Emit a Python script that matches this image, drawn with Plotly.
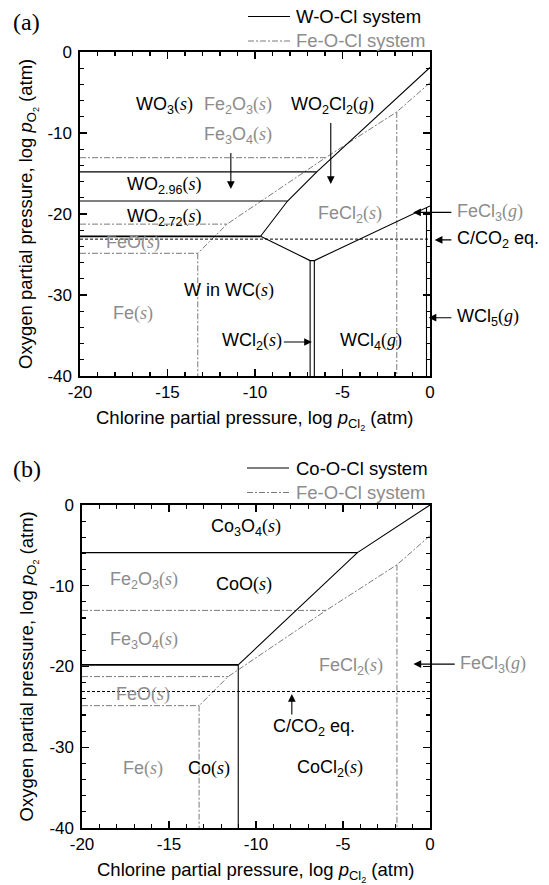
import plotly.graph_objects as go

# ---------------- data (log units) ----------------
X_RANGE = [-20, 0]
Y_RANGE = [-40, 0]
X_TICKS = [-20, -15, -10, -5, 0]
X_TICK_TEXT = ["-20", "-15", "-10", "-5", "0"]
Y_TICKS = [-40, -30, -20, -10, 0]
Y_TICK_TEXT = ["-40", "-30", "-20", "-10", "0"]

# Fe-O-Cl system (grey dash-dot), same in both panels
fe_hem_mag_x = [-20, -5.97]
fe_hem_mag_y = [-13.05, -13.05]
fe_mag_wus_x = [-20, -11.6]
fe_mag_wus_y = [-21.25, -21.25]
fe_wus_fe_x = [-20, -13.27]
fe_wus_fe_y = [-24.85, -24.85]
fe_fe_cl2_x = [-13.27, -13.27]
fe_fe_cl2_y = [-24.85, -40]
fe_ox_cl_x = [0, -1.9, -5.97, -11.6, -13.27]
fe_ox_cl_y = [-3.8, -7.4, -13.05, -21.25, -24.85]
fe_cl2_cl3_x = [-1.9, -1.9]
fe_cl2_cl3_y = [-7.4, -40]

# C/CO2 equilibrium
cco2_x = [-20, 0]
cco2_y = [-23.1, -23.1]

# W-O-Cl system (panel a)
w_wo3_wo296_x = [-20, -6.47]
w_wo3_wo296_y = [-14.8, -14.8]
w_wo296_wo272_x = [-20, -8.14]
w_wo296_wo272_y = [-18.4, -18.4]
w_wo272_w_x = [-20, -9.68]
w_wo272_w_y = [-22.75, -22.75]
w_oxide_gas_x = [0, -6.47, -8.14, -9.68]
w_oxide_gas_y = [-1.9, -14.8, -18.4, -22.75]
w_vee_x = [-9.68, -6.85, -6.61, 0]
w_vee_y = [-22.75, -25.75, -25.75, -19.0]
w_wcl2_left_x = [-6.85, -6.85]
w_wcl2_left_y = [-25.75, -40]
w_wcl2_right_x = [-6.61, -6.61]
w_wcl2_right_y = [-25.75, -40]
w_wcl5_x = [-0.2, -0.2]
w_wcl5_y = [-19.2, -40]

# Co-O-Cl system (panel b)
co_co3o4_coo_x = [-20, -4.17]
co_co3o4_coo_y = [-5.9, -5.9]
co_coo_co_x = [-20, -11.02]
co_coo_co_y = [-19.8, -19.8]
co_oxide_cl_x = [0, -4.17, -11.02]
co_oxide_cl_y = [0, -5.9, -19.8]
co_co_cocl2_x = [-11.02, -11.02]
co_co_cocl2_y = [-19.8, -40]

# phase labels: (formula, state, x, y, grey?)
labels_a = [
    ("WO<sub>3</sub>", "s", -15.2, -6.6, False),
    ("Fe<sub>2</sub>O<sub>3</sub>", "s", -10.98, -6.6, True),
    ("WO<sub>2</sub>Cl<sub>2</sub>", "g", -5.57, -6.6, False),
    ("Fe<sub>3</sub>O<sub>4</sub>", "s", -10.98, -10.33, True),
    ("WO<sub>2.96</sub>", "s", -15.2, -16.5, False),
    ("WO<sub>2.72</sub>", "s", -15.2, -20.4, False),
    ("FeO", "s", -17.0, -23.5, True),
    ("FeCl<sub>2</sub>", "s", -4.57, -20.0, True),
    ("W in WC", "s", -11.48, -29.45, False),
    ("Fe", "s", -17.0, -32.3, True),
    ("WCl<sub>2</sub>", "s", -10.18, -35.8, False),
    ("WCl<sub>4</sub>", "g", -3.37, -35.8, False),
]
outside_a = [
    ("FeCl<sub>3</sub>", "g", 1.45, -19.8, True),
    ("C/CO<sub>2</sub> eq.", None, 1.45, -23.2, False),
    ("WCl<sub>5</sub>", "g", 1.45, -32.8, False),
]
# arrows: (tail x, tail y, head x, head y)
arrows_a = [
    (-11.38, -12.4, -11.38, -16.9),
    (-5.67, -8.7, -5.67, -16.3),
    (-8.38, -35.8, -6.75, -35.8),
    (1.25, -19.8, -0.96, -19.8),
    (1.25, -23.2, 0.27, -23.2),
    (1.25, -32.8, -0.08, -32.8),
]

labels_b = [
    ("Co<sub>3</sub>O<sub>4</sub>", "s", -10.58, -2.83, False),
    ("Fe<sub>2</sub>O<sub>3</sub>", "s", -16.42, -9.3, True),
    ("CoO", "s", -10.68, -9.9, False),
    ("Fe<sub>3</sub>O<sub>4</sub>", "s", -16.42, -16.8, True),
    ("FeCl<sub>2</sub>", "s", -4.55, -20.0, True),
    ("FeO", "s", -16.49, -23.5, True),
    ("C/CO<sub>2</sub> eq.", None, -6.67, -27.5, False),
    ("Fe", "s", -16.49, -32.6, True),
    ("Co", "s", -12.69, -32.6, False),
    ("CoCl<sub>2</sub>", "s", -5.77, -32.6, False),
]
outside_b = [
    ("FeCl<sub>3</sub>", "g", 1.6, -19.7, True),
]
arrows_b = [
    (-7.94, -26.0, -7.94, -23.4),
    (1.45, -19.7, -0.95, -19.7),
]

legend_a = ["W-O-Cl system", "Fe-O-Cl system"]
legend_b = ["Co-O-Cl system", "Fe-O-Cl system"]

# ---------------- styling ----------------
W, H = 549, 885
FONT = "Liberation Sans, Arial, sans-serif"
SERIF = "Liberation Serif"
GREY_TXT = "#8c8c8c"
GREY_LN = "#7a7a7a"
DASHDOT = "6px,2px,2px,2px"
DOT = "3px,2px"

fig = go.Figure()


def add_line(xs, ys, sub, kind):
    if kind == "solid":
        line = dict(color="black", width=1.1)
    elif kind == "solid2":
        line = dict(color="black", width=1.8)
    elif kind == "fe":
        line = dict(color=GREY_LN, width=1.0, dash=DASHDOT)
    else:
        line = dict(color="black", width=1.0, dash=DOT)
    fig.add_trace(go.Scatter(x=xs, y=ys, mode="lines", line=line,
                             xaxis="x" + sub, yaxis="y" + sub,
                             showlegend=False, hoverinfo="skip"))


for sub in ["", "2"]:
    add_line(fe_hem_mag_x, fe_hem_mag_y, sub, "fe")
    add_line(fe_mag_wus_x, fe_mag_wus_y, sub, "fe")
    add_line(fe_wus_fe_x, fe_wus_fe_y, sub, "fe")
    add_line(fe_fe_cl2_x, fe_fe_cl2_y, sub, "fe")
    add_line(fe_ox_cl_x, fe_ox_cl_y, sub, "fe")
    add_line(fe_cl2_cl3_x, fe_cl2_cl3_y, sub, "fe")
    add_line(cco2_x, cco2_y, sub, "dot")

add_line(w_wo3_wo296_x, w_wo3_wo296_y, "", "solid")
add_line(w_wo296_wo272_x, w_wo296_wo272_y, "", "solid")
add_line(w_wo272_w_x, w_wo272_w_y, "", "solid2")
add_line(w_oxide_gas_x, w_oxide_gas_y, "", "solid")
add_line(w_vee_x, w_vee_y, "", "solid")
add_line(w_wcl2_left_x, w_wcl2_left_y, "", "solid")
add_line(w_wcl2_right_x, w_wcl2_right_y, "", "solid")
add_line(w_wcl5_x, w_wcl5_y, "", "solid")

add_line(co_co3o4_coo_x, co_co3o4_coo_y, "2", "solid")
add_line(co_coo_co_x, co_coo_co_y, "2", "solid2")
add_line(co_oxide_cl_x, co_oxide_cl_y, "2", "solid")
add_line(co_co_cocl2_x, co_co_cocl2_y, "2", "solid")


def phase(formula, state):
    if state is None:
        return formula
    return (formula + "<span style='font-family:" + SERIF + "'>(<i>" + state +
            "</i>)</span>")


def dom(v):
    return (v - X_RANGE[0]) / (X_RANGE[1] - X_RANGE[0])


annotations = []
LBL = 18


def add_panel_annotations(sub, labels, outside, arrows):
    xr = "x" + sub + " domain"
    for f, st, x, y, grey in labels:
        annotations.append(dict(text=phase(f, st), x=x, y=y, xref="x" + sub, yref="y" + sub,
                                showarrow=False,
                                font=dict(family=FONT, size=LBL,
                                          color=GREY_TXT if grey else "black")))
    for f, st, x, y, grey in outside:
        annotations.append(dict(text=phase(f, st), x=dom(x), y=y,
                                xref=xr, yref="y" + sub,
                                xanchor="left", showarrow=False,
                                font=dict(family=FONT, size=LBL,
                                          color=GREY_TXT if grey else "black")))
    for tx, ty, hx, hy in arrows:
        annotations.append(dict(text="", x=dom(hx), y=hy, ax=dom(tx), ay=ty,
                                xref=xr, yref="y" + sub, axref=xr, ayref="y" + sub,
                                showarrow=True, arrowhead=2, arrowsize=1.4,
                                arrowwidth=1.1, arrowcolor="black", borderpad=0))


add_panel_annotations("", labels_a, outside_a, arrows_a)
add_panel_annotations("2", labels_b, outside_b, arrows_b)

# plot boxes in pixels
BOX_A = (80, 430, 52, 376)
BOX_B = (82, 430, 505, 828)


def px(xp):
    return xp / W


def py(ypix):
    return 1 - ypix / H


XT = "Chlorine partial pressure, log <i>p</i><sub>Cl<sub>2</sub></sub> (atm)"
YT = "Oxygen partial pressure, log <i>p</i><sub>O<sub>2</sub></sub> (atm)"

for box, tag, lab_y, leg, leg_y in [(BOX_A, "(a)", 22, legend_a, 16.5),
                                   (BOX_B, "(b)", 469, legend_b, 468)]:
    x0, x1, y0, y1 = box
    annotations.append(dict(text=XT, x=px((x0 + x1) / 2), y=py(y1 + 29), xref="paper", yref="paper",
                            xanchor="center", yanchor="top", showarrow=False,
                            font=dict(family=FONT, size=18.5, color="black")))
    annotations.append(dict(text=YT, x=px(28), y=py((y0 + y1) / 2), xref="paper", yref="paper",
                            xanchor="center", yanchor="middle", textangle=-90, showarrow=False,
                            font=dict(family=FONT, size=18.5, color="black")))
    annotations.append(dict(text=tag, x=px(11), y=py(lab_y), xref="paper", yref="paper",
                            xanchor="left", yanchor="middle", showarrow=False,
                            font=dict(family=SERIF, size=24, color="black")))
    for i, name in enumerate(leg):
        yy = leg_y + 24.5 * i
        annotations.append(dict(text=name, x=px(294), y=py(yy), xref="paper", yref="paper",
                                xanchor="left", yanchor="middle", showarrow=False,
                                font=dict(family=FONT, size=18.5,
                                          color="black" if i == 0 else GREY_TXT)))

shapes = []
for x0l, ys in [(248, [16.5, 41]), (247, [468, 492.5])]:
    shapes.append(dict(type="line", xref="paper", yref="paper", x0=px(x0l), x1=px(x0l + 42),
                       y0=py(ys[0]), y1=py(ys[0]), line=dict(color="black", width=1.1)))
    shapes.append(dict(type="line", xref="paper", yref="paper", x0=px(x0l), x1=px(x0l + 42),
                       y0=py(ys[1]), y1=py(ys[1]),
                       line=dict(color=GREY_LN, width=1.0, dash=DASHDOT)))


def axis_common(minor_dtick, rng, tickvals, ticktext):
    return dict(range=rng, tickmode="array", tickvals=tickvals, ticktext=ticktext,
                ticks="inside", ticklen=7, tickwidth=1.2,
                tickcolor="black", showline=True, linecolor="black", linewidth=1.6,
                mirror="ticks", showgrid=False, zeroline=False, automargin=False,
                tickfont=dict(family=FONT, size=17, color="black"),
                minor=dict(dtick=minor_dtick, tick0=0, ticks="inside", ticklen=4,
                           tickwidth=1.1, tickcolor="black", showgrid=False),
                fixedrange=True)


xa = axis_common(1, X_RANGE, X_TICKS, X_TICK_TEXT)
ya = axis_common(2, Y_RANGE, Y_TICKS, Y_TICK_TEXT)

fig.update_layout(
    width=W, height=H,
    margin=dict(l=0, r=0, t=0, b=0),
    paper_bgcolor="white", plot_bgcolor="white",
    showlegend=False,
    xaxis=dict(xa, domain=[px(BOX_A[0]), px(BOX_A[1])], anchor="y"),
    yaxis=dict(ya, domain=[py(BOX_A[3]), py(BOX_A[2])], anchor="x", ticklabelstandoff=3),
    xaxis2=dict(xa, domain=[px(BOX_B[0]), px(BOX_B[1])], anchor="y2"),
    yaxis2=dict(ya, domain=[py(BOX_B[3]), py(BOX_B[2])], anchor="x2", ticklabelstandoff=3),
    annotations=annotations,
    shapes=shapes,
)

fig.write_html("out.html", config={"displayModeBar": False, "staticPlot": True},
               post_script="document.body.style.margin='0';document.body.style.overflow='hidden';")
